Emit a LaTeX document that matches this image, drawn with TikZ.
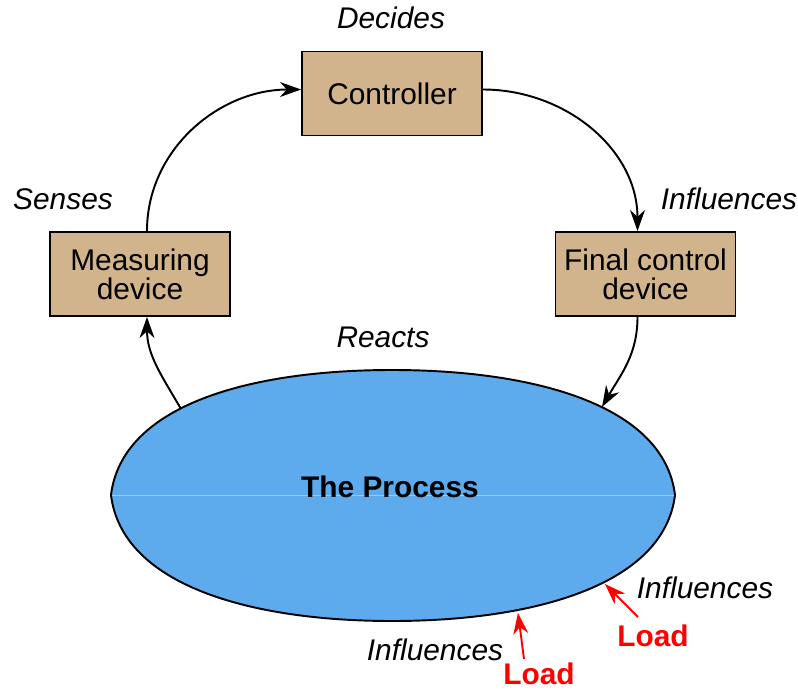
\documentclass[tikz,border=0pt]{standalone}
\usepackage{fontspec}
\setmainfont{Liberation Sans}
\usepackage{tikz}
\usepackage{xcolor}
\usetikzlibrary{arrows.meta,positioning,calc}
\definecolor{boxtan}{HTML}{D2B48C}
\definecolor{procblue}{HTML}{5DABEC}
\definecolor{procline}{HTML}{9CCBF3}
\definecolor{loadred}{HTML}{FF0000}

\begin{document}
\begin{tikzpicture}[
  x=0.02cm, y=-0.02cm,
  block/.style={draw=black, fill=boxtan, line width=1.1pt, minimum width=3.6cm,
    minimum height=1.68cm, align=center, inner sep=0pt,
    font=\fontsize{17}{16.5}\selectfont},
  verb/.style={font=\fontsize{17}{20}\selectfont\itshape},
  loadtxt/.style={font=\fontsize{17}{20}\selectfont\bfseries, text=loadred},
  flow/.style={line width=1.1pt, -{Stealth[length=12pt,width=8.5pt]}},
  loadarrow/.style={line width=1.1pt, loadred, -{Stealth[length=12pt,width=8.5pt]}}
]
\useasboundingbox (0,0) rectangle (798,690);
% The process
\draw[line width=1.1pt, fill=procblue]
  (111,495) .. controls (122,405) and (250,370) .. (392,370)
  .. controls (534,370) and (664,405) .. (675,495)
  .. controls (664,585) and (534,621) .. (392,621)
  .. controls (250,621) and (122,585) .. (111,495) -- cycle;
\draw[procline, line width=0.4pt] (112,495) -- (674,495);
\node[font=\fontsize{17}{20}\selectfont\bfseries] (process) at (390,487) {The Process};
\coordinate (pin) at (602,407);
\coordinate (pout) at (181,409);
\coordinate (tip1) at (605,584);
\coordinate (tip2) at (518,613);
% Blocks
\node[block] (ctrl) at (392,93.5) {Controller};
\node[block] (meas) at (140,274) {Measuring\\device};
\node[block] (final) at (645.5,274) {Final control\\device};
% Labels
\node[verb] (decides) at (391,18) {Decides};
\node[verb] (senses) at (63,199) {Senses};
\node[verb] (influences) at (729,199) {Influences};
\node[verb] (reacts) at (383,337) {Reacts};
\node[verb] (infl1) at (705,588) {Influences};
\node[verb] (infl2) at (435,650) {Influences};
\node[loadtxt] (load1) at (653,636) {Load};
\node[loadtxt] (load2) at (539,674) {Load};
% Loop
\draw[flow] ($(meas.north)+(7,0)$) to[out=90,in=180] ($(ctrl.west)+(0,-4)$);
\draw[flow] ($(ctrl.east)+(0,-4)$) to[out=0,in=90] ($(final.north)+(-8,0)$);
\draw[flow] ($(final.south)+(-8,0)$) to[out=-90,in=60] (pin);
\draw[flow] (pout) to[out=120,in=-90] ($(meas.south)+(7,0)$);
% Loads
\draw[loadarrow] ($(load1)+(-15,-19)$) -- (tip1);
\draw[loadarrow] ($(load2)+(-15,-15)$) -- (tip2);
\end{tikzpicture}
\end{document}
